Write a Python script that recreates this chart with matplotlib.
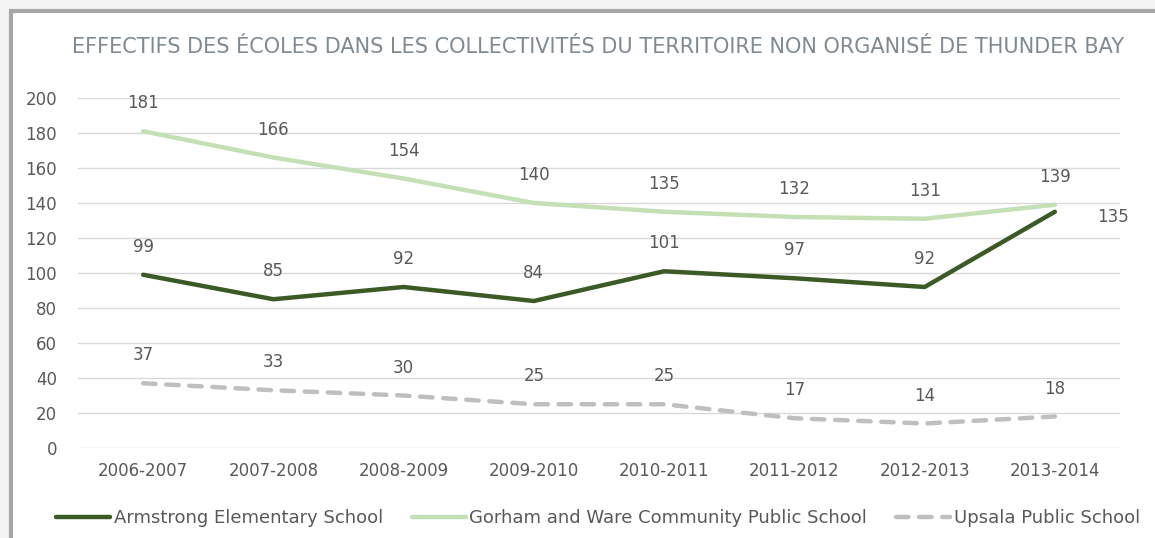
import matplotlib.pyplot as plt
from matplotlib.patches import Rectangle
from matplotlib.lines import Line2D

years = ['2006-2007', '2007-2008', '2008-2009', '2009-2010',
         '2010-2011', '2011-2012', '2012-2013', '2013-2014']
armstrong = [99, 85, 92, 84, 101, 97, 92, 135]
gorham = [181, 166, 154, 140, 135, 132, 131, 139]
upsala = [37, 33, 30, 25, 25, 17, 14, 18]

plt.rcParams['font.family'] = ['DejaVu Sans']

W, H = 1155, 538
fig = plt.figure(figsize=(W / 100, H / 100), dpi=100)
fig.patch.set_facecolor('white')

# outer light strip + gray frame (top and left edges only visible)
fig.patches.append(Rectangle((0, 0), 9 / W, 1, transform=fig.transFigure,
                             color='#f4f4f4', zorder=0))
fig.patches.append(Rectangle((0, 1 - 9 / H), 1, 9 / H, transform=fig.transFigure,
                             color='#f4f4f4', zorder=0))
fig.add_artist(Line2D([10.5 / W, 10.5 / W], [0, 1 - 10.5 / H], transform=fig.transFigure,
                      color='#a6a6a6', lw=3, solid_capstyle='butt'))
fig.add_artist(Line2D([9 / W, 1], [1 - 10.5 / H, 1 - 10.5 / H], transform=fig.transFigure,
                      color='#a6a6a6', lw=3, solid_capstyle='butt'))

ax = fig.add_axes([78 / W, 1 - 448 / H, (1120 - 78) / W, 350 / H])
x = list(range(len(years)))

dark = '#3b5a26'
light = '#c5e0b4'
grey = '#bfbfbf'
txt = '#595959'
fs = 12
dash = (0, (2.8, 2.4))

ax.plot(x, gorham, color=light, lw=3.2, solid_capstyle='round', zorder=3)
ax.plot(x, armstrong, color=dark, lw=3.2, solid_capstyle='round', zorder=4)
ax.plot(x, upsala, color=grey, lw=3.2, ls=dash, dash_capstyle='round', zorder=3)

for i in x:
    ax.annotate(str(gorham[i]), (i, gorham[i]), xytext=(0, 20), textcoords='offset points',
                ha='center', va='center', fontsize=fs, color=txt)
    if i == len(x) - 1:
        ax.annotate(str(armstrong[i]), (i, armstrong[i]), xytext=(42, -4),
                    textcoords='offset points', ha='center', va='center',
                    fontsize=fs, color=txt)
    else:
        ax.annotate(str(armstrong[i]), (i, armstrong[i]), xytext=(0, 20),
                    textcoords='offset points', ha='center', va='center',
                    fontsize=fs, color=txt)
    ax.annotate(str(upsala[i]), (i, upsala[i]), xytext=(0, 20), textcoords='offset points',
                ha='center', va='center', fontsize=fs, color=txt)

ax.set_xlim(-0.5, len(x) - 0.5)
ax.set_ylim(0, 200)
ax.set_yticks(range(0, 201, 20))
ax.set_xticks(x)
ax.set_xticklabels(years)
ax.grid(axis='y', color='#d9d9d9', lw=1)
ax.set_axisbelow(True)
for s in ax.spines.values():
    s.set_visible(False)
ax.tick_params(length=0, labelsize=fs, labelcolor=txt)
ax.tick_params(axis='y', pad=15)
ax.tick_params(axis='x', pad=10)

fig.text(598 / W, 1 - 47 / H,
         'EFFECTIFS DES ÉCOLES DANS LES COLLECTIVITÉS DU TERRITOIRE NON ORGANISÉ DE THUNDER BAY',
         ha='center', va='center', fontsize=15, color='#7f8a93')

handles = [Line2D([], [], color=dark, lw=3.2, solid_capstyle='round'),
           Line2D([], [], color=light, lw=3.2, solid_capstyle='round'),
           Line2D([], [], color=grey, lw=3.2, ls=dash, dash_capstyle='round')]
labels = ['Armstrong Elementary School', 'Gorham and Ware Community Public School',
          'Upsala Public School']
fig.legend(handles, labels, loc='center', bbox_to_anchor=(598 / W, 1 - 518 / H), ncol=3,
           frameon=False, fontsize=13, labelcolor=txt, handlelength=3.0,
           handletextpad=0.2, columnspacing=1.6)

fig.savefig('out.png', dpi=100)
